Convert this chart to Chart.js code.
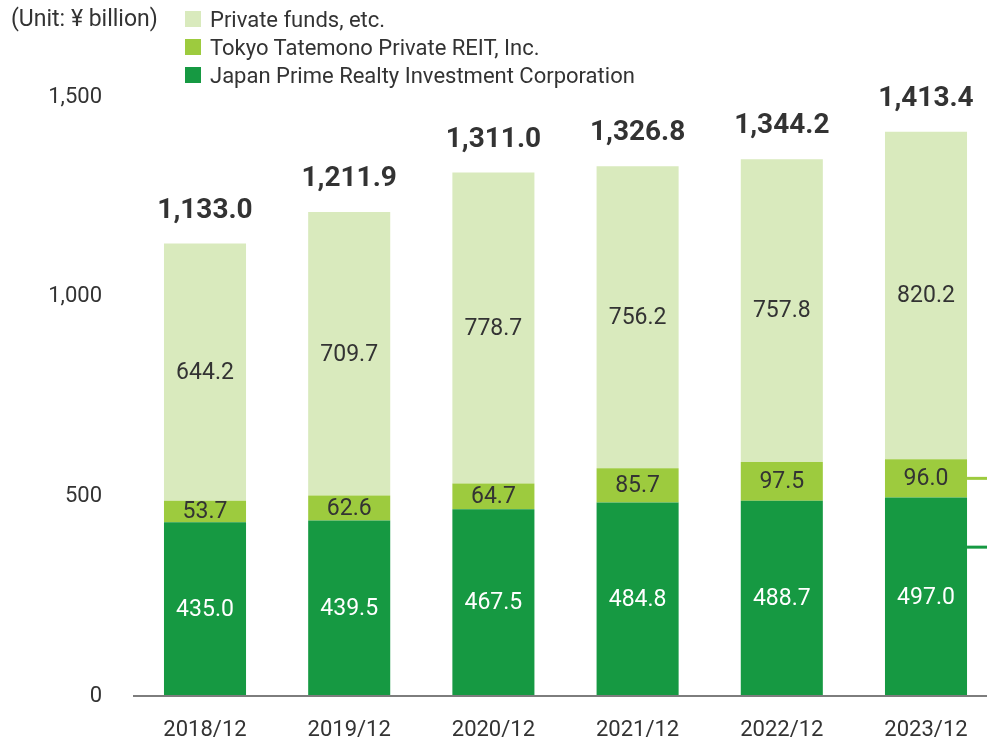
<!DOCTYPE html>
<html>
<head>
<meta charset="utf-8">
<script src="https://cdn.jsdelivr.net/npm/chart.js@4"></script>
<style>
  body { margin: 0; background: #fff; font-family: Roboto, "Noto Sans", sans-serif; color: #333; }
  #wrap { position: relative; width: 987px; height: 740px; }
  #unit { position: absolute; left: 11px; top: 5px; font-size: 23px; }
  #legend { position: absolute; left: 185px; top: 5px; font-size: 22px; }
  .row { height: 28px; display: flex; align-items: center; }
  .box { width: 16px; height: 16px; margin-right: 9px; }
  canvas { position: absolute; left: 0; top: 0; }
</style>
</head>
<body>
<div id="wrap">
  <canvas id="chart" width="987" height="740"></canvas>
  <div id="unit">(Unit: ¥ billion)</div>
  <div id="legend"></div>
</div>
<script>
// Data
const categories = ['2018/12', '2019/12', '2020/12', '2021/12', '2022/12', '2023/12'];
const japanPrime = [435.0, 439.5, 467.5, 484.8, 488.7, 497.0];
const tokyoPrivateReit = [53.7, 62.6, 64.7, 85.7, 97.5, 96.0];
const privateFunds = [644.2, 709.7, 778.7, 756.2, 757.8, 820.2];
const totals = [1133.0, 1211.9, 1311.0, 1326.8, 1344.2, 1413.4];
const yTicks = [0, 500, 1000, 1500];

const seriesNames = ['Japan Prime Realty Investment Corporation', 'Tokyo Tatemono Private REIT, Inc.', 'Private funds, etc.'];
const colors = ['#169942', '#9dcb3e', '#d9eabd'];
const labelColors = ['#ffffff', '#333333', '#333333'];
const FONT = 'Roboto, "Noto Sans", sans-serif';

// legend (top to bottom is reverse of stacking)
const legend = document.getElementById('legend');
[2, 1, 0].forEach(i => {
    const row = document.createElement('div');
    row.className = 'row';
    row.innerHTML = '<div class="box" style="background:' + colors[i] + '"></div>' + seriesNames[i];
    legend.appendChild(row);
});

function fmt(v) {
    return v.toLocaleString('en-US', { minimumFractionDigits: 1, maximumFractionDigits: 1 });
}

function toPoints(arr) {
    return arr.map((v, i) => ({ x: i, y: v }));
}

// value labels inside segments, totals above stacks, baseline, stubs at right edge
const labelPlugin = {
    id: 'labels',
    afterDatasetsDraw(chart) {
        const ctx = chart.ctx;
        const y = chart.scales.y;
        ctx.save();

        // baseline, starts a bit left of the first bar
        const y0 = y.getPixelForValue(0);
        ctx.strokeStyle = '#7d7d7d';
        ctx.lineWidth = 2;
        ctx.beginPath();
        ctx.moveTo(133, y0);
        ctx.lineTo(chart.width, y0);
        ctx.stroke();

        ctx.textAlign = 'center';
        ctx.textBaseline = 'middle';
        chart.data.datasets.forEach((ds, di) => {
            const meta = chart.getDatasetMeta(di);
            ctx.font = '23px ' + FONT;
            ctx.fillStyle = labelColors[di];
            meta.data.forEach((bar, i) => {
                ctx.fillText(fmt(ds.data[i].y), bar.x, (bar.y + bar.base) / 2 + 1);
            });
        });
        const top = chart.getDatasetMeta(2);
        ctx.font = 'bold 28px ' + FONT;
        ctx.fillStyle = '#333';
        top.data.forEach((bar, i) => {
            ctx.fillText(fmt(totals[i]), bar.x, bar.y - 33);
        });

        // leader stubs going off to the right of the last bar
        const last = categories.length - 1;
        const lastBar = top.data[last];
        const x0 = lastBar.x + lastBar.width / 2;
        ctx.lineWidth = 3;
        ctx.strokeStyle = colors[1];
        ctx.beginPath();
        const midY = y.getPixelForValue(japanPrime[last] + tokyoPrivateReit[last] / 2);
        ctx.moveTo(x0, midY); ctx.lineTo(chart.width, midY); ctx.stroke();
        ctx.strokeStyle = colors[0];
        ctx.beginPath();
        const lowY = y.getPixelForValue(japanPrime[last] * 0.75);
        ctx.moveTo(x0, lowY); ctx.lineTo(chart.width, lowY); ctx.stroke();
        ctx.restore();
    }
};

new Chart(document.getElementById('chart'), {
    type: 'bar',
    data: {
        datasets: [
            { label: seriesNames[0], data: toPoints(japanPrime), backgroundColor: colors[0] },
            { label: seriesNames[1], data: toPoints(tokyoPrivateReit), backgroundColor: colors[1] },
            { label: seriesNames[2], data: toPoints(privateFunds), backgroundColor: colors[2] }
        ]
    },
    options: {
        responsive: false,
        animation: false,
        layout: { padding: { top: 97, right: 0, bottom: 0, left: 0 } },
        datasets: { bar: { categoryPercentage: 1, barPercentage: 0.569 } },
        plugins: { legend: { display: false }, tooltip: { enabled: false } },
        scales: {
            x: {
                type: 'linear',
                stacked: true,
                offset: false,
                min: -0.6935,
                max: 5.423,
                afterBuildTicks(scale) {
                    scale.ticks = categories.map((c, i) => ({ value: i }));
                },
                afterFit(scale) { scale.height = 44; },
                grid: { display: false },
                border: { display: false },
                ticks: {
                    padding: 13,
                    maxRotation: 0,
                    autoSkip: false,
                    color: '#333',
                    font: { size: 22, family: FONT },
                    callback: v => categories[v]
                }
            },
            y: {
                stacked: true,
                min: 0,
                max: 1500,
                afterFit(scale) { scale.width = 105; },
                afterBuildTicks(scale) {
                    scale.ticks = yTicks.map(v => ({ value: v }));
                },
                grid: { display: false, drawTicks: false },
                border: { display: false },
                ticks: {
                    padding: 3,
                    color: '#333',
                    font: { size: 22, family: FONT },
                    callback: v => v.toLocaleString('en-US')
                }
            }
        }
    },
    plugins: [labelPlugin]
});
</script>
</body>
</html>
